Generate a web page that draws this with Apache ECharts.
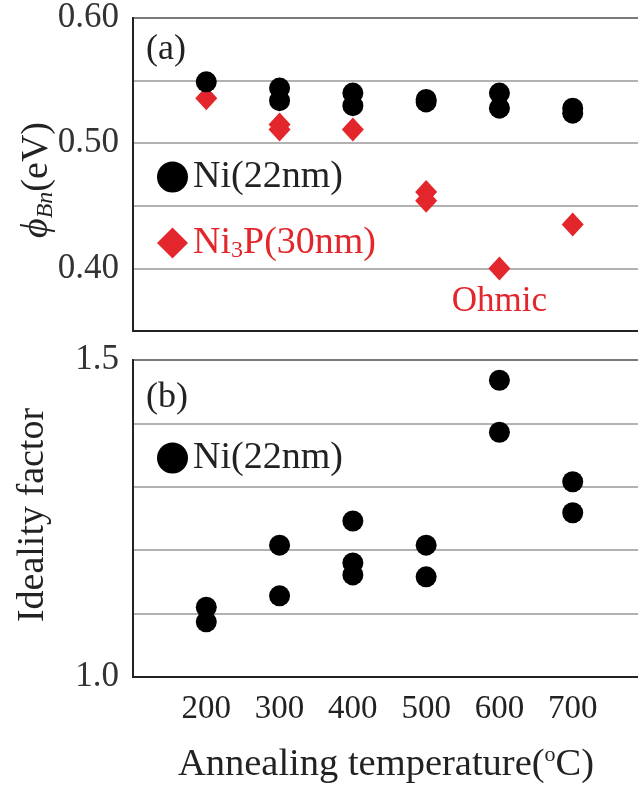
<!DOCTYPE html>
<html>
<head>
<meta charset="utf-8">
<script src="https://cdn.jsdelivr.net/npm/echarts@6/dist/echarts.min.js"></script>
<style>
  html, body { margin: 0; padding: 0; background: #fff; }
  #chart { width: 638px; height: 787px; }
</style>
</head>
<body>
<div id="chart"></div>
<script>
// Annealing temperatures (°C) shown on the shared x axis
const tempTicks = [200, 300, 400, 500, 600, 700];

// (a) Schottky barrier height φBn (eV), Ni(22nm) electrodes
const niBarrierTemp = [200, 300, 300, 400, 400, 500, 500, 600, 600, 700, 700];
const niBarrier     = [0.549, 0.544, 0.534, 0.540, 0.530, 0.535, 0.533, 0.540, 0.528, 0.528, 0.524];

// (a) Schottky barrier height φBn (eV), Ni3P(30nm) electrodes
const ni3pBarrierTemp = [200, 300, 300, 400, 500, 500, 600, 700];
const ni3pBarrier     = [0.536, 0.515, 0.511, 0.511, 0.461, 0.454, 0.400, 0.435];
const ni3pNotes       = ['', '', '', '', '', '', 'Ohmic', ''];

// (b) Ideality factor, Ni(22nm) electrodes
const niIdealityTemp = [200, 200, 300, 300, 400, 400, 400, 500, 500, 600, 600, 700, 700];
const niIdeality     = [1.110, 1.087, 1.208, 1.128, 1.246, 1.180, 1.161, 1.208, 1.158, 1.468, 1.386, 1.308, 1.259];

const NI_NAME = 'Ni(22nm)';
const NI3P_NAME = 'Ni3P(30nm)';
const RED = '#e3262b';
const INK = '#222';
const FONT = '"Liberation Serif", "Times New Roman", serif';

const zip = (xs, ys) => xs.map((x, i) => [x, ys[i]]);

const chart = echarts.init(document.getElementById('chart'), null, { renderer: 'canvas' });

// the plot frame runs past the right edge of the canvas
const gridBase = {
  left: 133, width: 513, show: true, borderColor: INK, borderWidth: 2,
  backgroundColor: 'transparent', containLabel: false, outerBoundsMode: 'none'
};

const xBase = {
  type: 'value', min: 100, max: 800, interval: 100,
  axisLine: { show: true, lineStyle: { color: INK, width: 2 } },
  axisTick: { show: false },
  splitLine: { show: false }
};

const yBase = {
  type: 'value',
  axisLine: { show: true, lineStyle: { color: INK, width: 2 } },
  axisTick: { show: false },
  splitLine: { show: true, lineStyle: { color: '#999', width: 1.5 } },
  axisLabel: { fontFamily: FONT, fontSize: 35, color: '#333', margin: 14, padding: [8, 0, 0, 0] }
};

const legendText = {
  fontFamily: FONT, fontSize: 38, lineHeight: 40,
  rich: {
    t: { fontFamily: FONT, fontSize: 38, lineHeight: 40 },
    s: { fontFamily: FONT, fontSize: 24, lineHeight: 18, verticalAlign: 'bottom' }
  }
};

const option = {
  backgroundColor: '#fff',
  animation: false,
  grid: [
    Object.assign({ top: 18, height: 313 }, gridBase),
    Object.assign({ top: 360, height: 317 }, gridBase)
  ],
  xAxis: [
    Object.assign({ gridIndex: 0, axisLabel: { show: false } }, xBase),
    Object.assign({
      gridIndex: 1,
      axisLabel: {
        fontFamily: FONT, fontSize: 33, color: INK, margin: 16,
        formatter: v => (tempTicks.indexOf(v) >= 0 ? String(v) : '')
      }
    }, xBase)
  ],
  yAxis: [
    Object.assign({}, yBase, {
      gridIndex: 0, min: 0.35, max: 0.60, interval: 0.05,
      axisLabel: Object.assign({}, yBase.axisLabel, {
        formatter: v => (Math.round(v * 100) % 10 === 0 && v > 0.36 ? v.toFixed(2) : '')
      })
    }),
    Object.assign({}, yBase, {
      gridIndex: 1, min: 1.0, max: 1.5, interval: 0.1,
      axisLabel: Object.assign({}, yBase.axisLabel, {
        formatter: v => (Math.abs(v - 1.0) < 1e-6 || Math.abs(v - 1.5) < 1e-6 ? v.toFixed(1) : '')
      })
    })
  ],
  legend: [
    {
      orient: 'vertical', left: 152, top: 152,
      itemWidth: 31, itemHeight: 31, itemGap: 26,
      textStyle: legendText,
      formatter: name => (name === NI3P_NAME ? '{t|Ni}{s|3}{t|P(30nm)}' : '{t|' + name + '}'),
      data: [
        { name: NI_NAME, icon: 'circle', textStyle: { color: INK } },
        { name: NI3P_NAME, icon: 'diamond', textStyle: { color: RED } }
      ],
      selectedMode: false
    },
    {
      orient: 'vertical', left: 152, top: 433,
      itemWidth: 31, itemHeight: 31,
      textStyle: legendText,
      formatter: name => '{t|' + name + '}',
      data: [{ name: NI_NAME, icon: 'circle', textStyle: { color: INK } }],
      selectedMode: false
    }
  ],
  series: [
    {
      name: NI3P_NAME, type: 'scatter', xAxisIndex: 0, yAxisIndex: 0,
      symbol: 'diamond', symbolSize: [22, 24],
      itemStyle: { color: RED, opacity: 1 },
      label: {
        show: true, position: 'bottom', distance: 4,
        fontFamily: FONT, fontSize: 35, color: RED,
        formatter: p => ni3pNotes[p.dataIndex]
      },
      data: zip(ni3pBarrierTemp, ni3pBarrier)
    },
    {
      name: NI_NAME, type: 'scatter', xAxisIndex: 0, yAxisIndex: 0,
      symbol: 'circle', symbolSize: 21,
      itemStyle: { color: '#000', opacity: 1 },
      data: zip(niBarrierTemp, niBarrier)
    },
    {
      name: NI_NAME, type: 'scatter', xAxisIndex: 1, yAxisIndex: 1,
      symbol: 'circle', symbolSize: 21,
      itemStyle: { color: '#000', opacity: 1 },
      data: zip(niIdealityTemp, niIdeality)
    }
  ],
  graphic: [
    {
      type: 'text', left: 146, top: 32,
      style: { text: '(a)', font: '36px ' + FONT, fill: INK }
    },
    {
      type: 'text', left: 146, top: 380,
      style: { text: '(b)', font: '36px ' + FONT, fill: INK }
    },
    {
      type: 'text', x: 37, y: 180, rotation: Math.PI / 2,
      style: {
        text: '{p|ϕ}{s|Bn}{t|(eV)}',
        fill: INK, align: 'center', verticalAlign: 'middle',
        rich: {
          p: { fontFamily: FONT, fontStyle: 'italic', fontSize: 38, lineHeight: 42 },
          s: { fontFamily: FONT, fontStyle: 'italic', fontSize: 24, lineHeight: 20, verticalAlign: 'bottom' },
          t: { fontFamily: FONT, fontSize: 38, lineHeight: 42 }
        }
      }
    },
    {
      type: 'text', x: 33, y: 515, rotation: Math.PI / 2,
      style: {
        text: 'Ideality factor', font: '38px ' + FONT, fill: INK,
        align: 'center', verticalAlign: 'middle'
      }
    },
    {
      type: 'text', x: 386, y: 765,
      style: {
        text: '{t|Annealing temperature(}{o|o}{t|C)}',
        fill: INK, align: 'center', verticalAlign: 'middle',
        rich: {
          t: { fontFamily: FONT, fontSize: 38.5, lineHeight: 42 },
          o: { fontFamily: FONT, fontSize: 22, lineHeight: 22, verticalAlign: 'top' }
        }
      }
    }
  ]
};

chart.setOption(option);
</script>
</body>
</html>
